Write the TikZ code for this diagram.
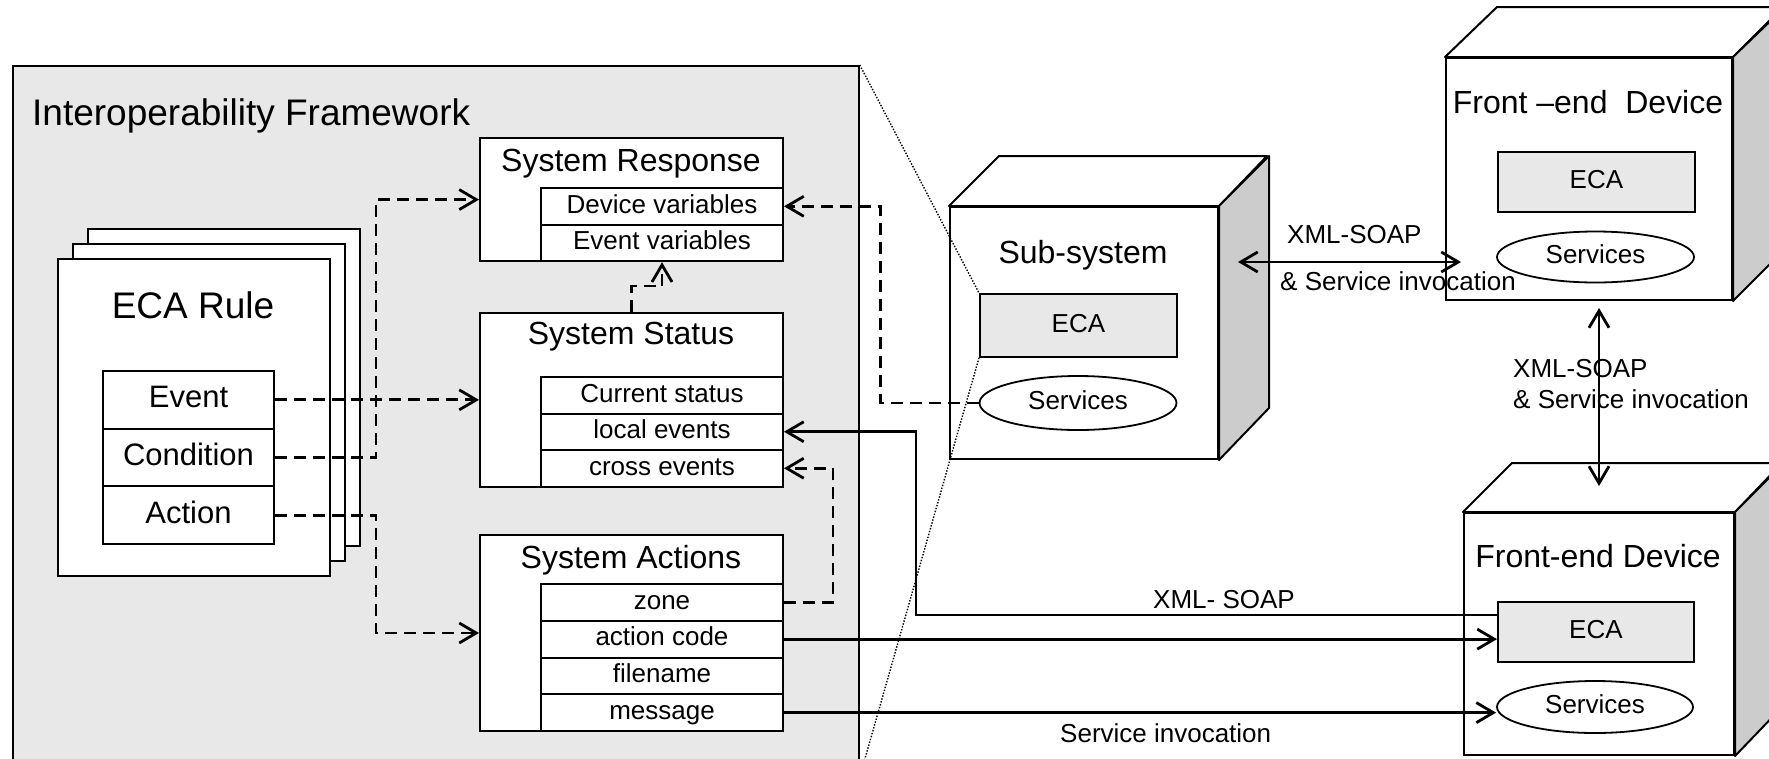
\documentclass[tikz,border=0pt]{standalone}
\usepackage{fontspec}
\setmainfont{Liberation Sans}
\usetikzlibrary{arrows.meta,shapes.geometric,calc}

\definecolor{panel}{HTML}{E8E8E8}
\definecolor{sideface}{HTML}{CCCCCC}

\begin{document}
\begin{tikzpicture}[x=1pt,y=-1pt,
  >={Straight Barb[length=17pt,width=20pt]},
  box/.style={draw,line width=2pt,fill=white,inner sep=0pt,anchor=north west},
  fbig/.style={font=\fontsize{37}{41}\selectfont,inner sep=0pt},
  fhead/.style={font=\fontsize{32}{36}\selectfont,inner sep=0pt},
  fitem/.style={font=\fontsize{26}{30}\selectfont,text height=18.7pt,text depth=5.2pt},
  flabel/.style={font=\fontsize{26}{30}\selectfont,inner sep=0pt},
  page/.style={box,minimum width=272pt,minimum height=317pt},
  ecarow/.style={box,minimum width=171pt,minimum height=57.7pt,
    font=\fontsize{31}{35}\selectfont,text height=22.3pt,text depth=6.2pt},
  sysbox/.style={box,minimum width=303pt},
  row/.style={box,fitem,minimum width=242pt},
  ecabox/.style={box,fitem,fill=panel,line width=1.8pt},
  svc/.style={ellipse,draw,line width=1.8pt,fill=white,inner sep=0pt,fitem},
  face/.style={draw,line width=2pt,fill=white,line join=round},
  dasharr/.style={line width=2.8pt,dash pattern=on 12pt off 7pt,->},
  solarr/.style={line width=2.8pt,->},
  dblarr/.style={line width=2.8pt,<->},
  dotln/.style={line width=1.4pt,dash pattern=on 1.4pt off 1.6pt}
]
\useasboundingbox (0,0) rectangle (1769,758);
\clip (0,0) rectangle (1769,758);

% ---------- Interoperability framework panel ----------
\node[box,fill=panel,line width=1.8pt,minimum width=846pt,minimum height=710pt] (fw) at (12,65) {};
\node[fbig,anchor=base west] (fwtitle) at (32,125) {Interoperability Framework};

% ECA rule stack
\node[page] (p3) at (87,228) {};
\node[page] (p2) at (72,243) {};
\node[page] (p1) at (57,258) {};
\node[fbig,anchor=base] (ecatitle) at (193,318) {ECA Rule};
\node[ecarow] (ev) at (102,370) {Event};
\node[ecarow] (cd) at (102,427.7) {Condition};
\node[ecarow] (ac) at (102,485.4) {Action};

% System Response
\node[sysbox,minimum height=123.2pt] (resp) at (479,137) {};
\node[fhead,anchor=base] (resptitle) at (631,171) {System Response};
\node[row,minimum height=36.6pt] (devvar) at (540,187) {Device variables};
\node[row,minimum height=36.6pt] (evvar) at (540,223.6) {Event variables};

% System Status
\node[sysbox,minimum height=173.5pt] (status) at (479,312) {};
\node[fhead,anchor=base] (statustitle) at (631,344) {System Status};
\node[row,minimum height=36.5pt] (cur) at (540,376) {Current status};
\node[row,minimum height=36.5pt] (local) at (540,412.5) {local events};
\node[row,minimum height=36.5pt] (cross) at (540,449) {cross events};

% System Actions
\node[sysbox,minimum height=196pt] (act) at (479,534) {};
\node[fhead,anchor=base] (acttitle) at (631,568) {System Actions};
\node[row,minimum height=36.75pt] (zone) at (540,583) {zone};
\node[row,minimum height=36.75pt] (acode) at (540,619.75) {action code};
\node[row,minimum height=36.75pt] (fname) at (540,656.5) {filename};
\node[row,minimum height=36.75pt] (msg) at (540,693.25) {message};

% ---------- Sub-system cube ----------
\node[box,minimum width=268pt,minimum height=252pt] (ss) at (949,206) {};
\draw[face] (ss.north west) -- ++(50,-50) -- ++(268,0) -- (ss.north east) -- cycle;
\draw[face,fill=sideface] (ss.north east) -- ++(50,-50) -- ++(0,252) -- (ss.south east) -- cycle;
\node[fhead,anchor=base] (sstitle) at (1083,263) {Sub-system};
\node[ecabox,minimum width=197pt,minimum height=63pt] (sseca) at (979,293) {ECA};
\node[svc,minimum width=197pt,minimum height=54pt] (ssvc) at (1078,403) {Services};

% ---------- Upper front-end device cube ----------
\node[box,minimum width=286pt,minimum height=242pt] (td) at (1445,57) {};
\draw[face] (td.north west) -- ++(52,-50) -- ++(286,0) -- (td.north east) -- cycle;
\draw[face,fill=sideface] (td.north east) -- ++(52,-50) -- ++(0,242) -- (td.south east) -- cycle;
\node[fhead,anchor=base] (tdtitle) at (1588,113) {Front –end\ \ Device};
\node[ecabox,minimum width=197pt,minimum height=60pt] (tdeca) at (1497,151) {ECA};
\node[svc,minimum width=197pt,minimum height=51pt] (tdsvc) at (1595.5,257) {Services};

% ---------- Lower front-end device cube ----------
\node[box,minimum width=270pt,minimum height=242pt] (bd) at (1463,512) {};
\draw[face] (bd.north west) -- ++(49,-49) -- ++(270,0) -- (bd.north east) -- cycle;
\draw[face,fill=sideface] (bd.north east) -- ++(49,-49) -- ++(0,242) -- (bd.south east) -- cycle;
\node[fhead,anchor=base] (bdtitle) at (1598,567) {Front-end Device};
\node[ecabox,minimum width=196pt,minimum height=60pt] (beca) at (1497,601) {ECA};
\node[svc,minimum width=196pt,minimum height=52pt] (bsvc) at (1595,707) {Services};

% ---------- Connectors ----------
\coordinate (jx) at (376,0);
\coordinate (jv) at (916,0);
\draw[dasharr] (ev.east) -- (ev.east -| status.west);
\draw[dasharr] (cd.east) -- (cd.east -| jx) |- (resp.west);
\draw[dasharr] (ac.east) -- (ac.east -| jx) |- (act.west);
\draw[dasharr] (status.north) -- ++(0,-26) -| (evvar.south);
\draw[dasharr] (ssvc.west) -- ++(-98,0) |- (devvar.east);
\draw[dasharr] (zone.east) -- ++(49,0) |- (cross.east);

\draw[solarr] ([yshift=17pt]beca.west) coordinate (s1) -- (s1 -| jv) |- (local.east);
\draw[solarr] (acode.east) -- (acode.east -| beca.west);
\draw[solarr] (msg.east) -- (msg.east -| bsvc.west);
\node[flabel,anchor=base west] (lxml) at (1153,608) {XML- SOAP};
\node[flabel,anchor=base west] (lsvc) at (1060,742) {Service invocation};

\coordinate (hA) at (1238,262);
\coordinate (hB) at (1461,262);
\draw[dblarr] (hA) -- (hB);
\node[flabel,anchor=base west] (hl1) at (1287,243) {XML-SOAP};
\node[flabel,anchor=base west] (hl2) at (1280,290) {\& Service invocation};

\coordinate (vA) at (1599,308);
\coordinate (vB) at (1599,486);
\draw[dblarr] (vA) -- (vB);
\node[flabel,anchor=base west] (vl1) at (1513,377) {XML-SOAP};
\node[flabel,anchor=base west] (vl2) at (1513,408) {\& Service invocation};

% zoom guide lines from the panel to the sub-system ECA
\draw[dotln] (fw.north east) -- (sseca.north west);
\draw[dotln] (sseca.south west) -- (fw.south east);
\end{tikzpicture}
\end{document}
